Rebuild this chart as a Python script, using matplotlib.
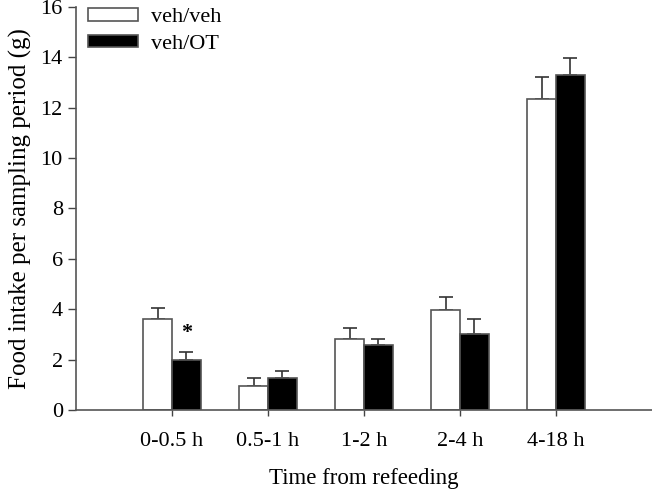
import matplotlib
matplotlib.use("Agg")
import matplotlib.pyplot as plt
import numpy as np

categories = ["0-0.5 h", "0.5-1 h", "1-2 h", "2-4 h", "4-18 h"]
veh_veh = [3.62, 0.96, 2.80, 3.96, 12.34]
veh_veh_err = [0.44, 0.30, 0.46, 0.51, 0.89]
veh_ot = [1.97, 1.27, 2.59, 3.03, 13.28]
veh_ot_err = [0.34, 0.28, 0.24, 0.58, 0.69]
series_names = ["veh/veh", "veh/OT"]
y_ticks = [0, 2, 4, 6, 8, 10, 12, 14, 16]

plt.rcParams['font.family'] = ['Liberation Serif', 'DejaVu Serif']

fig = plt.figure(figsize=(6.52, 4.91), dpi=100)
ax = fig.add_axes([0.1166, 0.165, 0.8834, 0.821])

x = np.arange(1, len(categories) + 1)
w = 0.3
edge = '#555555'
ax.bar(x - w/2, veh_veh, w, color='white', edgecolor=edge, linewidth=1.2,
       label=series_names[0], zorder=2)
ax.bar(x + w/2, veh_ot, w, color='black', edgecolor=edge, linewidth=1.2,
       label=series_names[1], zorder=2)
ax.errorbar(x - w/2, veh_veh, yerr=[np.zeros(len(x)), veh_veh_err], fmt='none',
            ecolor='#333333', elinewidth=1.2, capsize=4.7, capthick=1.2, zorder=1)
ax.errorbar(x + w/2, veh_ot, yerr=[np.zeros(len(x)), veh_ot_err], fmt='none',
            ecolor='#333333', elinewidth=1.2, capsize=4.7, capthick=1.2, zorder=1)

ax.text(x[0] + w/2, veh_ot[0] + veh_ot_err[0] + 0.35, '*', ha='center', va='bottom',
        fontsize=16, fontweight='bold')

ax.set_xlim(0, 6)
ax.set_ylim(0, 16)
ax.set_yticks(y_ticks)
ax.set_xticks(x)
ax.set_xticklabels(categories)
ax.tick_params(axis='y', labelsize=16, direction='out', length=6, width=1, color='#444444')
ax.tick_params(axis='x', labelsize=16, direction='out', length=4, width=1, color='#444444', pad=12)
for s in ['top', 'right']:
    ax.spines[s].set_visible(False)
for s in ['left', 'bottom']:
    ax.spines[s].set_color('#555555')
    ax.spines[s].set_linewidth(1.2)

ax.set_ylabel('Food intake per sampling period (g)', fontsize=18, labelpad=6)
ax.set_xlabel('Time from refeeding', fontsize=16.5, labelpad=12)

leg = ax.legend(loc='upper left', bbox_to_anchor=(0.021, 0.997), frameon=False, fontsize=16,
                handlelength=2.25, handleheight=0.5, labelspacing=0.33, handletextpad=0.6,
                borderpad=0, borderaxespad=0)

fig.savefig('out.png', dpi=100)
